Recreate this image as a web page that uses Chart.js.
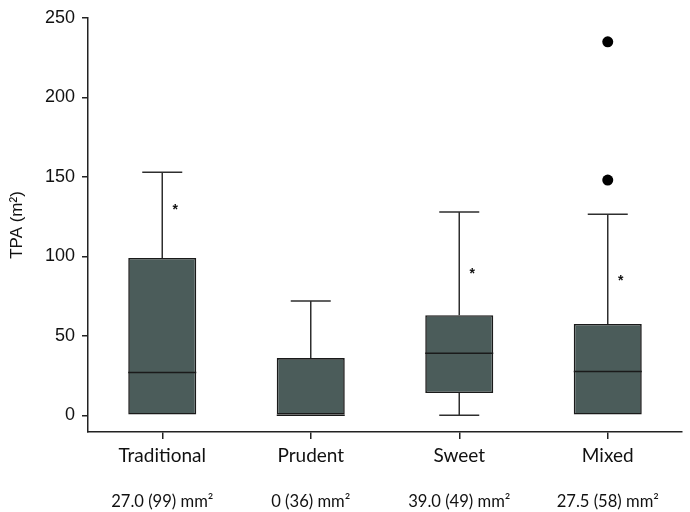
<!DOCTYPE html>
<html>
<head>
<meta charset="utf-8">
<script src="https://cdn.jsdelivr.net/npm/chart.js@4"></script>
<style>
  html, body { margin: 0; padding: 0; background: #fff; }
  #wrap { width: 690px; height: 512px; }
</style>
</head>
<body>
<div id="wrap"><canvas id="c" width="690" height="512"></canvas></div>
<script>
// ---- data ----
const categories = ['Traditional', 'Prudent', 'Sweet', 'Mixed'];
const summaryLabels = ['27.0 (99) mm²', '0 (36) mm²', '39.0 (49) mm²', '27.5 (58) mm²'];
const whiskerLow = [0, 0, 0, 0];
const q1 = [0, 0, 14, 0];
const medians = [27, 0, 39, 27.5];
const q3 = [99, 36, 63, 57.5];
const whiskerHigh = [153, 72, 128, 126.5];
const outlierCategory = ['Mixed', 'Mixed'];
const outlierValues = [235, 148];
const asteriskValues = [131, null, 91, 86];
const yTicks = [0, 50, 100, 150, 200, 250];

// ---- styles ----
const boxFill = '#4b5c5a';
const boxBorder = '#1a1a1a';
const whiskerColor = '#2e2e2e';
const capWidth = 40;
const asteriskOffset = 13;

const boxPlugin = {
  id: 'boxParts',
  afterDatasetsDraw(chart) {
    const ctx = chart.ctx;
    const y = chart.scales.y;
    const meta = chart.getDatasetMeta(0);
    ctx.save();
    meta.data.forEach((bar, i) => {
      const cx = bar.x;
      const half = bar.width / 2;
      const yLo = y.getPixelForValue(whiskerLow[i]);
      const yQ1 = y.getPixelForValue(q1[i]);
      const yQ3 = y.getPixelForValue(q3[i]);
      const yHi = y.getPixelForValue(whiskerHigh[i]);
      const yMed = y.getPixelForValue(medians[i]);
      ctx.strokeStyle = whiskerColor;
      ctx.lineWidth = 1.5;
      if (whiskerHigh[i] > q3[i]) {
        ctx.beginPath();
        ctx.moveTo(cx, yQ3); ctx.lineTo(cx, yHi);
        ctx.moveTo(cx - capWidth / 2, yHi); ctx.lineTo(cx + capWidth / 2, yHi);
        ctx.stroke();
      }
      if (whiskerLow[i] < q1[i]) {
        ctx.beginPath();
        ctx.moveTo(cx, yQ1); ctx.lineTo(cx, yLo);
        ctx.moveTo(cx - capWidth / 2, yLo); ctx.lineTo(cx + capWidth / 2, yLo);
        ctx.stroke();
      }
      ctx.strokeStyle = boxBorder;
      ctx.beginPath();
      ctx.moveTo(cx - half, yMed); ctx.lineTo(cx + half, yMed);
      ctx.stroke();
      if (asteriskValues[i] !== null) {
        ctx.fillStyle = '#111';
        ctx.font = 'bold 14px "Liberation Sans", Arial, sans-serif';
        ctx.textAlign = 'center';
        ctx.textBaseline = 'middle';
        ctx.fillText('*', cx + asteriskOffset, y.getPixelForValue(asteriskValues[i]) + 3);
      }
    });
    const x = chart.scales.x;
    ctx.fillStyle = '#111';
    ctx.font = '16.6px Lato, "Noto Sans", sans-serif';
    ctx.textAlign = 'center';
    ctx.textBaseline = 'middle';
    summaryLabels.forEach((t, i) => {
      ctx.fillText(t, x.getPixelForValue(i), 502);
    });
    ctx.restore();
  }
};

new Chart(document.getElementById('c'), {
  type: 'bar',
  data: {
    labels: categories,
    datasets: [
      {
        type: 'bar',
        data: categories.map((c, i) => [q1[i], q3[i]]),
        backgroundColor: boxFill,
        borderColor: boxBorder,
        borderWidth: 1.6,
        borderSkipped: false,
        barPercentage: 0.458,
        categoryPercentage: 1.0
      },
      {
        type: 'line',
        data: outlierValues.map((v, i) => ({ x: outlierCategory[i], y: v })),
        showLine: false,
        pointRadius: 5.5,
        pointBackgroundColor: '#000',
        pointBorderColor: '#000',
        pointBorderWidth: 0
      }
    ]
  },
  options: {
    responsive: false,
    animation: false,
    devicePixelRatio: 1,
    layout: { padding: { top: 18, right: 8, left: 0, bottom: 0 } },
    plugins: { legend: { display: false }, tooltip: { enabled: false } },
    scales: {
      x: {
        type: 'category',
        offset: true,
        grid: { display: true, drawOnChartArea: false, offset: false, tickLength: 7, color: '#222', lineWidth: 1.5 },
        border: { display: true, color: '#222', width: 1.5 },
        ticks: { color: '#111', font: { family: 'Lato, "Noto Sans", sans-serif', size: 19 }, padding: 5, maxRotation: 0 },
        afterFit(s) { s.height = 80; }
      },
      y: {
        min: -10.5,
        max: 250,
        afterBuildTicks(s) { s.ticks = yTicks.map(v => ({ value: v })); },
        grid: { display: true, drawOnChartArea: false, tickLength: 6, color: '#222', lineWidth: 1.5 },
        border: { display: true, color: '#222', width: 1.5 },
        ticks: { color: '#111', font: { family: '"Liberation Sans", Arial, sans-serif', size: 18 }, padding: 7 },
        title: { display: true, text: 'TPA (m²)', color: '#111', font: { family: '"Liberation Sans", Arial, sans-serif', size: 17 }, padding: { top: 7, bottom: 0 } },
        afterFit(s) { s.width = 88; }
      }
    }
  },
  plugins: [boxPlugin]
});
</script>
</body>
</html>
